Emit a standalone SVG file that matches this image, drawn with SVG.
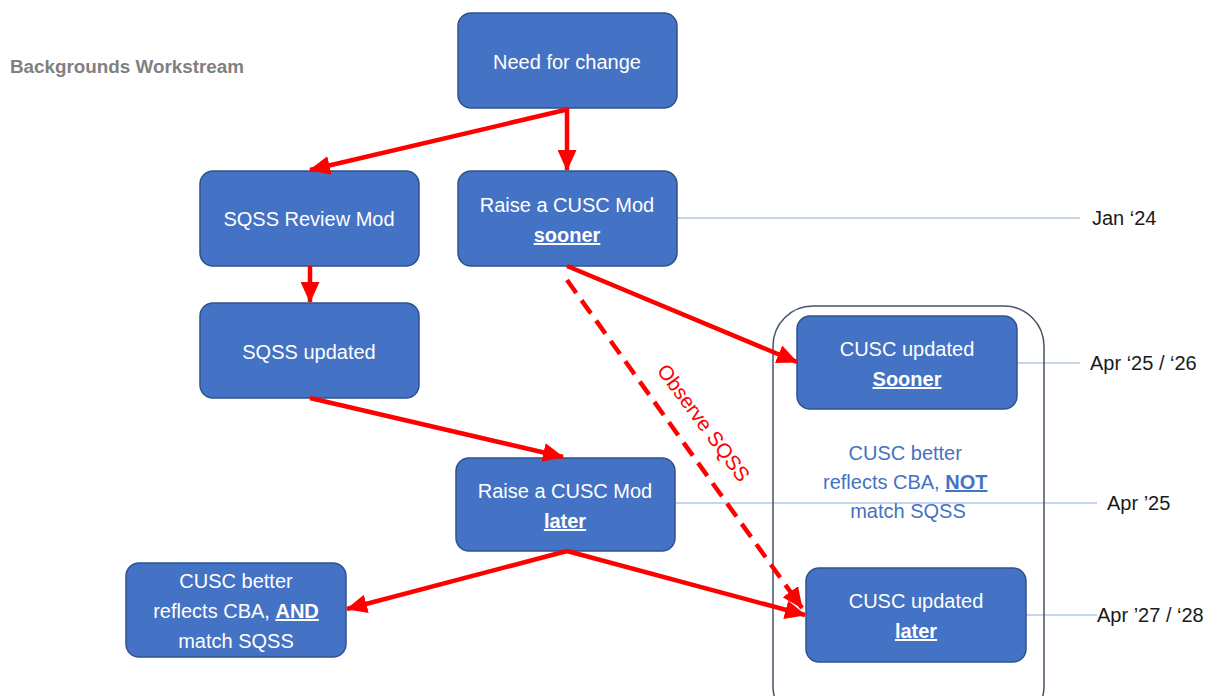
<svg xmlns="http://www.w3.org/2000/svg" width="1231" height="696" viewBox="0 0 1231 696">
<style>
.node{fill:#4472C4;stroke:#2F528F;stroke-width:1.5}
.nt{font-family:"Liberation Sans",Arial,sans-serif;font-size:20px;fill:#FFFFFF;text-anchor:middle}
.b{font-weight:bold;text-decoration:underline}
.dt{font-family:"Liberation Sans",Arial,sans-serif;font-size:20px;fill:#1A1A1A}
.tl{stroke:#8FAADC;stroke-width:1.2;fill:none}
.arr{stroke:#FF0000;stroke-width:4.5;fill:none;marker-end:url(#ah)}
</style>
<defs>
<marker id="ah" markerUnits="userSpaceOnUse" markerWidth="21" markerHeight="19" viewBox="0 0 21 19" refX="20" refY="9.5" orient="auto">
<path d="M0,0 L21,9.5 L0,19 Z" fill="#FF0000"/>
</marker>
</defs>
<rect width="1231" height="696" fill="#FFFFFF"/>
<text x="10" y="73" font-family="Liberation Sans,Arial,sans-serif" font-size="17.5" font-weight="bold" fill="#808080" textLength="234" lengthAdjust="spacingAndGlyphs">Backgrounds Workstream</text>

<g id="timeline">
<line class="tl" x1="677" y1="218" x2="1080" y2="218"/>
<line class="tl" x1="1017" y1="363" x2="1080" y2="363"/>
<line class="tl" x1="675" y1="503" x2="1097" y2="503"/>
<line class="tl" x1="1026" y1="615" x2="1097" y2="615"/>
<text class="dt" x="1092" y="225">Jan ‘24</text>
<text class="dt" x="1090" y="370">Apr ‘25 / ‘26</text>
<text class="dt" x="1107" y="510">Apr ’25</text>
<text class="dt" x="1097" y="622">Apr ’27 / ‘28</text>
</g>

<g id="container">
<rect x="773" y="306" width="271" height="420" rx="40" fill="none" stroke="#44546A" stroke-width="1.5"/>
<text font-family="Liberation Sans,Arial,sans-serif" font-size="20" fill="#4472C4" text-anchor="middle">
<tspan x="908" y="460">CUSC better</tspan>
<tspan x="908" y="489">reflects CBA, <tspan class="b">NOT</tspan></tspan>
<tspan x="908" y="518">match SQSS</tspan>
</text>
</g>

<g id="n-need">
<rect class="node" x="458" y="13" width="219" height="95" rx="13"/>
<text class="nt" x="567" y="69">Need for change</text>
</g>
<g id="n-sqss-review">
<rect class="node" x="200" y="171" width="219" height="95" rx="13"/>
<text class="nt" x="309" y="226">SQSS Review Mod</text>
</g>
<g id="n-raise-sooner">
<rect class="node" x="458" y="171" width="219" height="95" rx="13"/>
<text class="nt"><tspan x="567" y="212">Raise a CUSC Mod</tspan><tspan class="b" x="567" y="242">sooner</tspan></text>
</g>
<g id="n-sqss-updated">
<rect class="node" x="200" y="303" width="219" height="95" rx="13"/>
<text class="nt" x="309" y="359">SQSS updated</text>
</g>
<g id="n-raise-later">
<rect class="node" x="456" y="458" width="219" height="93" rx="13"/>
<text class="nt"><tspan x="565" y="498">Raise a CUSC Mod</tspan><tspan class="b" x="565" y="528">later</tspan></text>
</g>
<g id="n-and">
<rect class="node" x="126" y="563" width="220" height="94" rx="13"/>
<text class="nt"><tspan x="236" y="588">CUSC better</tspan><tspan x="236" y="618">reflects CBA, <tspan class="b">AND</tspan></tspan><tspan x="236" y="648">match SQSS</tspan></text>
</g>
<g id="n-updated-sooner">
<rect class="node" x="797" y="316" width="220" height="93" rx="13"/>
<text class="nt"><tspan x="907" y="356">CUSC updated</tspan><tspan class="b" x="907" y="386">Sooner</tspan></text>
</g>
<g id="n-updated-later">
<rect class="node" x="806" y="568" width="220" height="94" rx="13"/>
<text class="nt"><tspan x="916" y="608">CUSC updated</tspan><tspan class="b" x="916" y="638">later</tspan></text>
</g>

<g id="connectors">
<path class="arr" d="M567,108 L567,170"/>
<path class="arr" d="M565,110 L310,170"/>
<path class="arr" d="M310,266 L310,302"/>
<path class="arr" d="M310,398 L563,457"/>
<path class="arr" d="M567,266 L797,362"/>
<path class="arr" d="M567,280 L802,608" stroke-dasharray="16,9"/>
<path class="arr" d="M567,551 L805,615"/>
<path class="arr" d="M567,551 L347,609"/>
<text x="698" y="427" transform="rotate(53.5 698 427)" font-family="Liberation Sans,Arial,sans-serif" font-size="20.5" fill="#FF0000" text-anchor="middle">Observe SQSS</text>
</g>
</svg>
